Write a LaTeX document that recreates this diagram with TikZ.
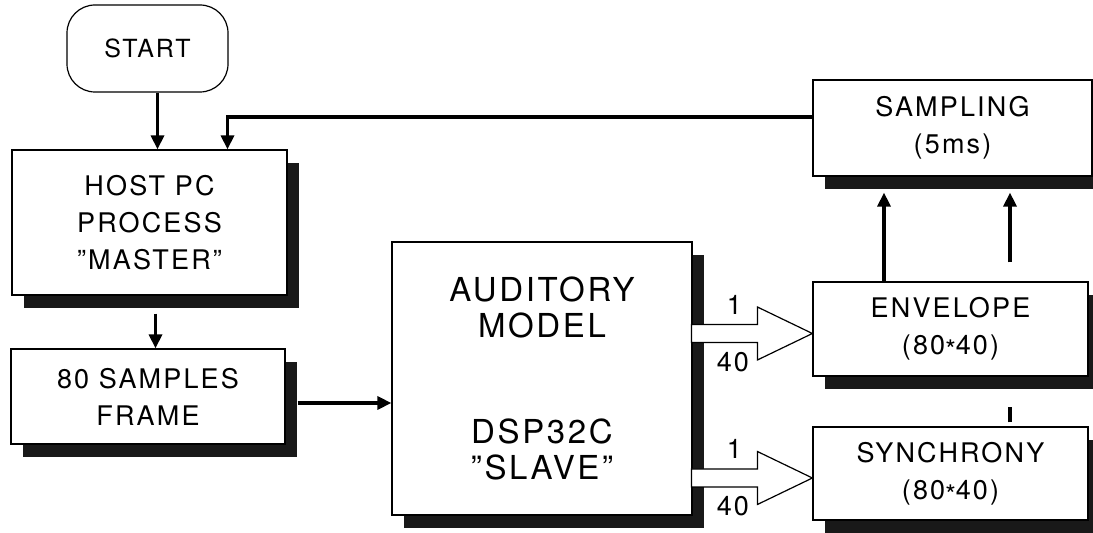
\documentclass[tikz,border=0pt]{standalone}
\usepackage{fontspec}
\setmainfont[LetterSpace=8]{TeX Gyre Heros}
\usetikzlibrary{arrows.meta,shadows,calc}

\begin{document}
\begin{tikzpicture}[x=0.5pt, y=-0.5pt,
  blk/.style={draw, line width=0.6pt, fill=white, inner sep=0pt, align=center,
    font=\fontsize{13.5}{18.5}\selectfont,
    drop shadow={shadow xshift=6pt, shadow yshift=-6.5pt, fill=black!90, opacity=1}},
  flow/.style={-{Triangle[width=6.5pt,length=7pt]}, line width=1.6pt},
  wide/.style={draw, fill=white, line width=0.6pt},
  lbl/.style={inner sep=0pt, font=\fontsize{13.5}{15}\selectfont}]
  \useasboundingbox (0,0) rectangle (1093,533);

  % blocks
  \node[draw, rounded corners=14pt, line width=0.6pt, minimum width=80.5pt,
    minimum height=43.5pt, font=\fontsize{12.5}{14}\selectfont] (start) at (147.5,48.5) {START};
  \node[blk, minimum width=137.5pt, minimum height=72.5pt] (host) at (149.5,222.5)
    {HOST PC\\PROCESS\\”MASTER”};
  \node[blk, minimum width=137pt, minimum height=47.5pt] (frame) at (148,396.5)
    {80 SAMPLES\\FRAME};
  \node[blk, minimum width=150pt, minimum height=136.5pt, font=\fontsize{16.5}{18}\selectfont]
    (audit) at (542,378.5) {AUDITORY\\MODEL\\[35pt]DSP32C\\”SLAVE”};
  \node[blk, minimum width=139.5pt, minimum height=48pt] (sampling) at (952.5,128)
    {SAMPLING\\(5ms)};
  \node[blk, minimum width=137.5pt, minimum height=47pt] (envelope) at (950.5,329)
    {ENVELOPE\\(80\raisebox{-0.35ex}{*}40)};
  \node[blk, minimum width=137.5pt, minimum height=46.5pt] (synchrony) at (950.5,473.5)
    {SYNCHRONY\\(80\raisebox{-0.35ex}{*}40)};

  % connectors
  \draw[flow] ($(start.south)+(5pt,0)$) coordinate (sh) -- (sh |- host.north);
  \draw[flow] ($(host.south)+(3pt,-9pt)$) coordinate (hf) -- (hf |- frame.north);
  \draw[flow] ($(frame.east)+(6pt,-3.25pt)$) coordinate (fa) -- (fa -| audit.west);
  \draw[flow] ($(sampling.west)+(0,5.5pt)$) -| ($(host.north)+(39pt,0)$);

  % up to sampling
  \draw[flow] ($(envelope.north)+(-33.25pt,0)$) coordinate (e1)
    -- ($(e1 |- sampling.south)+(0,-8pt)$);
  \draw[flow] ($(envelope.north)+(29.75pt,9.5pt)$) coordinate (e2)
    -- ($(e2 |- sampling.south)+(0,-8pt)$);
  \draw[line width=1.6pt] ($(synchrony.north)+(29.75pt,2pt)$) -- ++(0,7.5pt);

  % wide arrows 1..40
  \foreach \t in {envelope,synchrony} {
    \coordinate (tip\t) at ($(\t.west)+(0,-2.25pt)$);
    \draw[wide] (tip\t) -- ++(-27.5pt,13.25pt) -- ++(0,-8.75pt) -- ++(-33pt,0)
      -- ++(0,-9pt) -- ++(33pt,0) -- ++(0,-8.75pt) -- cycle;
    \node[lbl, anchor=south east] (one\t) at ($(tip\t)+(-35pt,9.5pt)$) {1};
    \node[lbl, anchor=north east] (forty\t) at ($(tip\t)+(-31.5pt,-9pt)$) {40};
  }
\end{tikzpicture}
\end{document}
